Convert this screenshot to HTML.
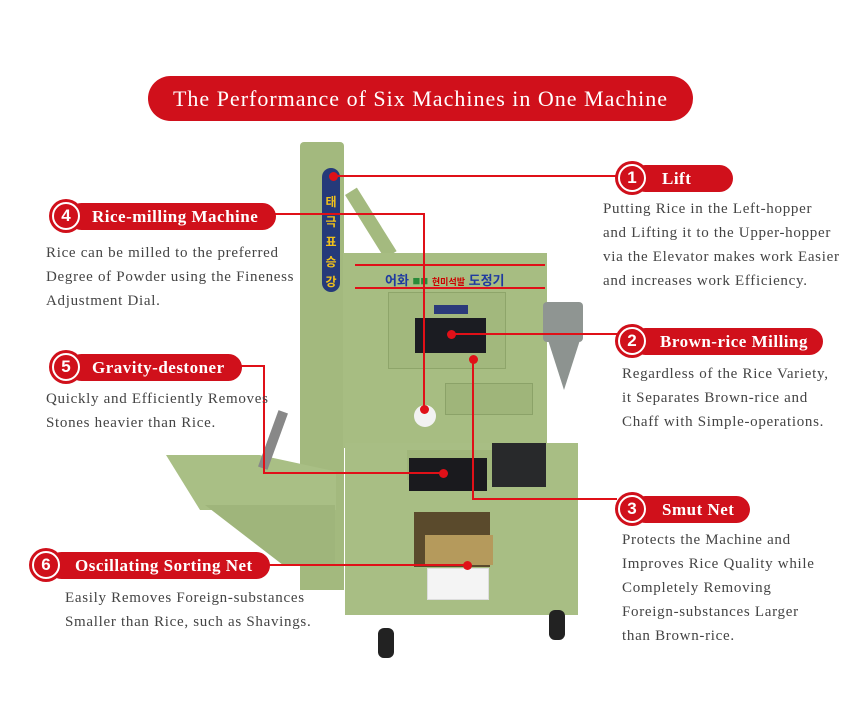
<!DOCTYPE html>
<html><head><meta charset="utf-8"><style>
body{margin:0;width:842px;height:709px;background:#fff;position:relative;overflow:hidden;font-family:"Liberation Serif","Noto Serif CJK SC",serif}
.a{position:absolute}
.pill{position:absolute;background:#d0101b;color:#fff;border-radius:14px;height:27px;line-height:27px;font-size:17px;letter-spacing:0.5px;font-weight:bold;box-sizing:border-box;padding-left:22px;white-space:nowrap}
.num{position:absolute;width:34px;height:34px;border-radius:50%;background:#d0101b;box-sizing:border-box;}
.num i{position:absolute;left:3px;top:3px;width:28px;height:28px;border-radius:50%;border:2.5px solid #fff;box-sizing:border-box;color:#fff;font:bold 17px/23px "Liberation Sans",sans-serif;text-align:center;font-style:normal}
.t{position:absolute;font-size:15px;letter-spacing:0.7px;line-height:24px;color:#444;white-space:nowrap}
.g{position:absolute;background:#a9bd84}
.ln{position:absolute;background:#e01018}
.dot{position:absolute;width:9px;height:9px;border-radius:50%;background:#e01018;margin:-4px 0 0 -4px}
</style></head><body>
<!-- title -->
<div class="a" style="left:148px;top:76px;width:545px;height:45px;border-radius:23px;background:#d0101b;color:#fff;font-size:22px;letter-spacing:1px;line-height:45px;text-align:center">The Performance of Six Machines in One Machine</div>

<!-- machine -->
<div class="g" style="left:300px;top:142px;width:44px;height:448px;background:#a3b97e;border-radius:4px 4px 0 0"></div>
<div class="a" style="left:322px;top:168px;width:18px;height:124px;background:#253a7a;border-radius:9px;color:#f2c21a;font-size:12px;font-weight:bold;text-align:center;line-height:20px;padding-top:24px;box-sizing:border-box;font-family:'Liberation Sans','Noto Sans CJK KR',sans-serif">태<br>극<br>표<br>승<br>강</div>
<div class="a" style="left:345px;top:195px;width:14px;height:75px;background:#a4ba7f;transform:rotate(-32deg);transform-origin:top left"></div>
<div class="g" style="left:343px;top:253px;width:204px;height:195px;background:#a7bd82"></div>
<div class="ln" style="left:355px;top:264px;width:190px;height:2px"></div>
<div class="ln" style="left:355px;top:287px;width:190px;height:2px"></div>
<div class="a" style="left:385px;top:270px;font:bold 13px 'Liberation Sans','Noto Sans CJK KR',sans-serif;color:#1f3aa0">어화 <span style="color:#2a8a3a">■■</span> <span style="color:#c00;font-size:9px">현미석발</span> 도정기</div>
<div class="a" style="left:388px;top:292px;width:116px;height:75px;border:1px solid #8ea56a;background:#a2b87d"></div>
<div class="a" style="left:415px;top:318px;width:71px;height:35px;background:#1b1c22"></div>
<div class="a" style="left:434px;top:305px;width:34px;height:9px;background:#2b3a7a"></div>
<div class="a" style="left:543px;top:302px;width:40px;height:40px;background:#8f9592;border-radius:4px"></div>
<div class="a" style="left:548px;top:340px;width:0;height:0;border-left:16px solid transparent;border-right:16px solid transparent;border-top:50px solid #8d9390"></div>
<div class="a" style="left:445px;top:383px;width:86px;height:30px;background:#9fb57a;border:1px solid #8ba268"></div>
<div class="a" style="left:414px;top:405px;width:22px;height:22px;border-radius:50%;background:#f2f2f2"></div>
<!-- lower body -->
<div class="g" style="left:345px;top:443px;width:233px;height:172px;background:#a8be84"></div>
<div class="a" style="left:407px;top:450px;width:125px;height:30px;background:#a0b67b"></div>
<div class="a" style="left:409px;top:458px;width:78px;height:33px;background:#1a1a1e"></div>
<div class="a" style="left:492px;top:443px;width:54px;height:44px;background:#28292b"></div>
<div class="a" style="left:414px;top:512px;width:76px;height:55px;background:#5a4a2c"></div>
<div class="a" style="left:425px;top:535px;width:68px;height:30px;background:#b59a5c"></div>
<div class="a" style="left:427px;top:568px;width:60px;height:30px;background:#f4f4f4;border:1px solid #ddd"></div>
<div class="a" style="left:378px;top:628px;width:16px;height:30px;background:#222;border-radius:6px"></div>
<div class="a" style="left:549px;top:610px;width:16px;height:30px;background:#222;border-radius:6px"></div>
<!-- hopper -->
<div class="a" style="left:166px;top:455px;width:170px;height:55px;background:#a9bf85;clip-path:polygon(0 0,55% 0,100% 30%,100% 100%,20% 100%)"></div>
<div class="a" style="left:205px;top:505px;width:130px;height:60px;background:#9fb57b;clip-path:polygon(0 0,100% 0,100% 100%,60% 100%)"></div>
<div class="a" style="left:268px;top:410px;width:10px;height:60px;background:#888;transform:rotate(20deg)"></div>

<!-- lines -->
<div class="ln" style="left:333px;top:175px;width:284px;height:2px"></div>
<div class="dot" style="left:333px;top:176px"></div>
<div class="ln" style="left:272px;top:213px;width:153px;height:2px"></div>
<div class="ln" style="left:423px;top:213px;width:2px;height:196px"></div>
<div class="dot" style="left:424px;top:409px"></div>
<div class="ln" style="left:450px;top:333px;width:167px;height:2px"></div>
<div class="dot" style="left:451px;top:334px"></div>
<div class="ln" style="left:472px;top:359px;width:2px;height:140px"></div>
<div class="ln" style="left:472px;top:498px;width:145px;height:2px"></div>
<div class="dot" style="left:473px;top:359px"></div>
<div class="ln" style="left:240px;top:365px;width:24px;height:2px"></div>
<div class="ln" style="left:263px;top:365px;width:2px;height:109px"></div>
<div class="ln" style="left:263px;top:472px;width:180px;height:2px"></div>
<div class="dot" style="left:443px;top:473px"></div>
<div class="ln" style="left:268px;top:564px;width:200px;height:2px"></div>
<div class="dot" style="left:467px;top:565px"></div>

<!-- labels -->
<div class="pill" style="left:632px;top:165px;width:101px;padding-left:30px">Lift</div>
<div class="num" style="left:615px;top:161px"><i>1</i></div>
<div class="t" style="left:603px;top:197px">Putting Rice in the Left-hopper<br>and Lifting it to the Upper-hopper<br>via the Elevator makes work Easier<br>and increases work Efficiency.</div>

<div class="pill" style="left:68px;top:203px;width:208px;padding-left:24px">Rice-milling Machine</div>
<div class="num" style="left:49px;top:199px"><i>4</i></div>
<div class="t" style="left:46px;top:241px">Rice can be milled to the preferred<br>Degree of Powder using the Fineness<br>Adjustment Dial.</div>

<div class="pill" style="left:632px;top:328px;width:191px;padding-left:28px">Brown-rice Milling</div>
<div class="num" style="left:615px;top:324px"><i>2</i></div>
<div class="t" style="left:622px;top:362px">Regardless of the Rice Variety,<br>it Separates Brown-rice and<br>Chaff with Simple-operations.</div>

<div class="pill" style="left:68px;top:354px;width:174px;padding-left:24px">Gravity-destoner</div>
<div class="num" style="left:49px;top:350px"><i>5</i></div>
<div class="t" style="left:46px;top:387px">Quickly and Efficiently Removes<br>Stones heavier than Rice.</div>

<div class="pill" style="left:632px;top:496px;width:118px;padding-left:30px">Smut Net</div>
<div class="num" style="left:615px;top:492px"><i>3</i></div>
<div class="t" style="left:622px;top:528px">Protects the Machine and<br>Improves Rice Quality while<br>Completely Removing<br>Foreign-substances Larger<br>than Brown-rice.</div>

<div class="pill" style="left:48px;top:552px;width:222px;padding-left:27px">Oscillating Sorting Net</div>
<div class="num" style="left:29px;top:548px"><i>6</i></div>
<div class="t" style="left:65px;top:586px">Easily Removes Foreign-substances<br>Smaller than Rice, such as Shavings.</div>
</body></html>
